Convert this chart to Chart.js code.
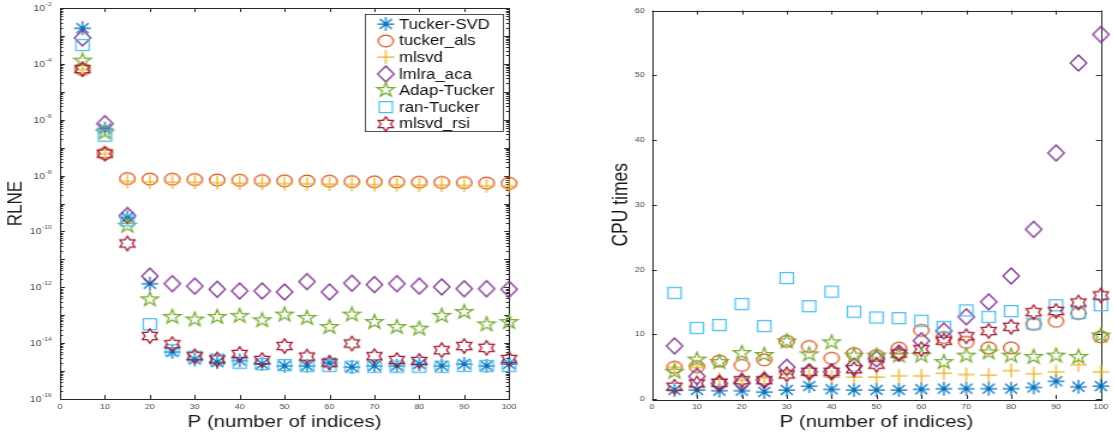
<!DOCTYPE html>
<html lang="en">
<head>
<meta charset="utf-8"/>
<script src="https://cdn.jsdelivr.net/npm/chart.js@4.4.0/dist/chart.umd.min.js"></script>
<style>
    html, body { margin: 0; padding: 0; background: #fff; }
    body { width: 1113px; height: 435px; position: relative; overflow: hidden; }
    /* the original figure is stretched horizontally, so each panel is too */
    .panel { position: absolute; top: 0; width: 460px; height: 435px; transform: scaleX(1.2); transform-origin: 0 0; }
    #left { left: 0; }
    #right { left: 560px; }
</style>
</head>
<body>
<div class="panel" id="left"><canvas id="rlne"></canvas></div>
<div class="panel" id="right"><canvas id="cpu"></canvas></div>
<script>
// number of indices
const P = [5, 10, 15, 20, 25, 30, 35, 40, 45, 50, 55, 60, 65, 70, 75, 80, 85, 90, 95, 100];
const xTicks = [0, 10, 20, 30, 40, 50, 60, 70, 80, 90, 100];
const rlneTickExps = [-16, -14, -12, -10, -8, -6, -4, -2];
const cpuTicks = [0, 10, 20, 30, 40, 50, 60];

const methods = ['Tucker-SVD', 'tucker_als', 'mlsvd', 'lmlra_aca', 'Adap-Tucker', 'ran-Tucker', 'mlsvd_rsi'];
const colors = ['#0072BD', '#D95319', '#EDB120', '#7E2F8E', '#77AC30', '#4DBEEE', '#A2142F'];
const markers = ['asterisk', 'circle', 'plus', 'diamond', 'pentagram', 'square', 'hexagram'];

// RLNE (left panel)
const rlneTuckerSvd = [1.9e-3, 4.8e-7, 3.2e-10, 1.35e-12, 4.9e-15, 2.6e-15, 2.1e-15, 2.4e-15, 1.8e-15, 1.55e-15, 1.55e-15, 2.0e-15, 1.4e-15, 1.55e-15, 1.55e-15, 1.8e-15, 1.55e-15, 1.8e-15, 1.55e-15, 1.8e-15];
const rlneTuckerAls = [6.3e-5, 6.1e-8, 7.8e-9, 7.5e-9, 7.4e-9, 7.2e-9, 7.0e-9, 6.8e-9, 6.6e-9, 6.5e-9, 6.4e-9, 6.3e-9, 6.1e-9, 6.0e-9, 5.9e-9, 5.8e-9, 5.7e-9, 5.6e-9, 5.4e-9, 5.3e-9];
const rlneMlsvd = [6.3e-5, 6.1e-8, 6.2e-9, 6.0e-9, 5.9e-9, 5.8e-9, 5.6e-9, 5.4e-9, 5.3e-9, 5.2e-9, 5.1e-9, 5.0e-9, 4.9e-9, 4.8e-9, 4.7e-9, 4.6e-9, 4.6e-9, 4.5e-9, 4.3e-9, 4.2e-9];
const rlneLmlra = [8.5e-4, 7.2e-7, 3.7e-10, 2.5e-12, 1.35e-12, 1.1e-12, 8.5e-13, 7.4e-13, 7.4e-13, 6.8e-13, 1.6e-12, 6.8e-13, 1.4e-12, 1.25e-12, 1.35e-12, 1.1e-12, 1.03e-12, 8.9e-13, 8.9e-13, 8.5e-13];
const rlneAdap = [1.3e-4, 3.5e-7, 1.6e-10, 3.7e-13, 8.7e-14, 7.0e-14, 8.7e-14, 9.5e-14, 6.6e-14, 1.05e-13, 8.0e-14, 3.8e-14, 1.05e-13, 5.7e-14, 3.8e-14, 3.3e-14, 9.5e-14, 1.3e-13, 4.7e-14, 5.7e-14];
const rlneRan = [4.8e-4, 2.7e-7, 2.5e-10, 4.8e-14, 5.6e-15, 3.3e-15, 2.6e-15, 2.0e-15, 1.8e-15, 1.65e-15, 1.55e-15, 1.55e-15, 1.45e-15, 1.45e-15, 1.45e-15, 1.45e-15, 1.45e-15, 1.55e-15, 1.55e-15, 1.55e-15];
const rlneRsi = [6.5e-5, 6.1e-8, 3.7e-11, 1.8e-14, 9.2e-15, 3.4e-15, 2.6e-15, 4.1e-15, 2.5e-15, 7.9e-15, 3.3e-15, 2.0e-15, 9.7e-15, 3.4e-15, 2.5e-15, 2.3e-15, 5.6e-15, 7.9e-15, 6.8e-15, 2.7e-15];

// CPU times (right panel)
const cpuTuckerSvd = [1.4, 1.4, 1.3, 1.3, 1.1, 1.4, 2.0, 1.5, 1.4, 1.4, 1.4, 1.5, 1.6, 1.6, 1.6, 1.6, 1.8, 2.75, 1.9, 2.0];
const cpuTuckerAls = [4.9, 5.0, 5.85, 5.2, 6.05, 8.9, 8.1, 6.3, 7.0, 6.7, 7.85, 10.6, 9.5, 8.75, 7.9, 7.9, 11.55, 12.0, 13.2, 9.6];
const cpuMlsvd = [4.9, 4.9, 3.1, 2.9, 3.3, 3.9, 3.7, 3.4, 3.4, 3.4, 3.6, 3.6, 4.0, 3.8, 3.7, 4.4, 3.9, 4.2, 5.3, 4.2];
const cpuLmlra = [8.2, 3.5, 2.4, 2.5, 2.9, 4.9, 4.2, 4.2, 5.1, 6.2, 7.1, 9.0, 10.5, 12.7, 15.0, 19.0, 26.2, 38.0, 51.9, 56.3];
const cpuAdap = [4.2, 6.1, 5.7, 7.1, 6.8, 8.9, 6.9, 8.75, 6.7, 6.7, 6.7, 6.7, 5.7, 6.7, 7.2, 6.7, 6.5, 6.7, 6.5, 9.8];
const cpuRan = [16.4, 11.0, 11.45, 14.7, 11.3, 18.7, 14.35, 16.6, 13.5, 12.6, 12.5, 12.1, 11.15, 13.7, 12.7, 13.6, 11.65, 14.5, 13.3, 14.5];
const cpuRsi = [1.9, 2.4, 2.5, 2.9, 2.9, 3.8, 4.2, 4.2, 4.6, 5.3, 7.0, 7.7, 9.0, 9.7, 10.5, 11.15, 13.4, 13.6, 14.9, 16.0];

const rlneSeries = [rlneTuckerSvd, rlneTuckerAls, rlneMlsvd, rlneLmlra, rlneAdap, rlneRan, rlneRsi];
const cpuSeries = [cpuTuckerSvd, cpuTuckerAls, cpuMlsvd, cpuLmlra, cpuAdap, cpuRan, cpuRsi];

const FONT = "'Liberation Sans', Arial, sans-serif";
Chart.defaults.font.family = FONT;
Chart.defaults.animation = false;

const axisColor = '#262626';
const tickColor = '#4a4a4a';

function starPath(g, n, R, r) {
    for (let i = 0; i < 2 * n; i++) {
        const a = -Math.PI / 2 + i * Math.PI / n;
        const rad = i % 2 ? r : R;
        if (i === 0) g.moveTo(rad * Math.cos(a), rad * Math.sin(a));
        else g.lineTo(rad * Math.cos(a), rad * Math.sin(a));
    }
    g.closePath();
}

// matlab-like marker glyphs, used as point styles and in the legend
function makeMarker(kind, color) {
    const c = document.createElement('canvas');
    c.width = 20; c.height = 20;
    const g = c.getContext('2d');
    g.strokeStyle = color;
    g.lineWidth = 1.25;
    g.translate(10, 10);
    g.beginPath();
    if (kind === 'asterisk') {
        g.moveTo(-7, 0); g.lineTo(7, 0);
        g.moveTo(0, -7); g.lineTo(0, 7);
        g.moveTo(-5, -5); g.lineTo(5, 5);
        g.moveTo(-5, 5); g.lineTo(5, -5);
    } else if (kind === 'circle') {
        g.ellipse(0, 0, 6.3, 5.8, 0, 0, Math.PI * 2);
    } else if (kind === 'plus') {
        g.moveTo(-7, 0); g.lineTo(7, 0);
        g.moveTo(0, -7); g.lineTo(0, 7);
    } else if (kind === 'diamond') {
        g.moveTo(0, -8); g.lineTo(6.8, 0); g.lineTo(0, 8); g.lineTo(-6.8, 0); g.closePath();
    } else if (kind === 'square') {
        g.rect(-5.5, -5.5, 11, 11);
    } else if (kind === 'pentagram') {
        starPath(g, 5, 7.5, 2.9);
    } else if (kind === 'hexagram') {
        starPath(g, 6, 7.2, 4.16);
    }
    g.stroke();
    return c;
}

const markerImgs = markers.map((m, i) => makeMarker(m, colors[i]));

function buildDatasets(series) {
    return series.map((vals, i) => ({
        label: methods[i],
        data: P.map((p, k) => ({ x: p, y: vals[k] })),
        pointStyle: markerImgs[i],
        pointRadius: 7,
        showLine: false,
        clip: false,
        order: methods.length - 1 - i   // later series on top, as in matlab
    }));
}

// box around the axes and inward ticks on all four sides
const frameTicks = {
    id: 'frameTicks',
    beforeDatasetsDraw(chart, args, opts) {
        const { ctx, chartArea: a, scales } = chart;
        const x = scales.x, y = scales.y;
        ctx.save();
        ctx.strokeStyle = axisColor;
        ctx.lineWidth = 1;
        ctx.beginPath();
        xTicks.forEach(v => {
            const px = Math.round(x.getPixelForValue(v)) + 0.5;
            ctx.moveTo(px, a.bottom); ctx.lineTo(px, a.bottom - 4);
            ctx.moveTo(px, a.top); ctx.lineTo(px, a.top + 4);
        });
        opts.yMarks.forEach(([v, len]) => {
            const py = Math.round(y.getPixelForValue(v)) + 0.5;
            ctx.moveTo(a.left, py); ctx.lineTo(a.left + len, py);
            ctx.moveTo(a.right, py); ctx.lineTo(a.right - len, py);
        });
        ctx.stroke();
        ctx.strokeRect(Math.round(a.left) + 0.5, Math.round(a.top) + 0.5, Math.round(a.right - a.left), Math.round(a.bottom - a.top));

        // 10^n labels of the log axis, with a raised exponent
        if (opts.powerLabels) {
            ctx.fillStyle = tickColor;
            ctx.textBaseline = 'middle';
            rlneTickExps.forEach(e => {
                const py = y.getPixelForValue(Math.pow(10, e));
                const right = a.left - 7;
                ctx.font = '5.5px ' + FONT;
                const ew = ctx.measureText(String(e)).width;
                ctx.textAlign = 'left';
                ctx.fillText(String(e), right - ew, py - 3.5);
                ctx.font = '8.8px ' + FONT;
                ctx.textAlign = 'right';
                ctx.fillText('10', right - ew - 0.5, py + 0.5);
            });
        }
        ctx.restore();
    }
};

// legend box drawn inside the left axes
const boxLegend = {
    id: 'boxLegend',
    afterDatasetsDraw(chart, args, opts) {
        if (!opts.show) return;
        const ctx = chart.ctx;
        const bx = 304, by = 14, bw = 115, bh = 117;
        ctx.save();
        ctx.fillStyle = '#fff';
        ctx.fillRect(bx, by, bw, bh);
        ctx.strokeStyle = axisColor;
        ctx.lineWidth = 0.8;
        ctx.strokeRect(bx + 0.5, by + 0.5, bw, bh);
        ctx.font = '14px ' + FONT;
        ctx.fillStyle = '#111';
        ctx.textBaseline = 'middle';
        methods.forEach((name, i) => {
            const cy = by + 10 + i * 16.6;
            ctx.drawImage(markerImgs[i], 321.5 - 10, Math.round(cy) - 10);
            ctx.fillText(name, 332.5, cy + 1);
        });
        ctx.restore();
    }
};

const logMarks = [];
for (let e = -16; e <= -2; e++) {
    logMarks.push([Math.pow(10, e), 4]);
    if (e < -2) for (let m = 2; m <= 9; m++) logMarks.push([m * Math.pow(10, e), 2.5]);
}
const linMarks = cpuTicks.map(v => [v, 4]);

const tickFont = { size: 7.5 };

function xScale() {
    return {
        type: 'linear', min: 0, max: 100,
        afterBuildTicks: s => { s.ticks = xTicks.map(v => ({ value: v })); },
        ticks: { font: tickFont, color: tickColor, padding: 3, maxRotation: 0 },
        grid: { display: false, drawTicks: false },
        border: { display: false },
        title: { display: true, text: 'P (number of indices)', font: { size: 17 }, color: '#1a1a1a', padding: { top: 0, bottom: 2 } },
        afterFit: s => { s.height = 36; }
    };
}

new Chart(document.getElementById('rlne'), {
    type: 'scatter',
    data: { datasets: buildDatasets(rlneSeries) },
    options: {
        responsive: true,
        maintainAspectRatio: false,
        events: [],
        layout: { padding: { top: 7, right: 35.8, left: 0, bottom: 0 } },
        scales: {
            x: xScale(),
            y: {
                type: 'logarithmic', min: 1e-16, max: 1e-2,
                afterBuildTicks: s => { s.ticks = rlneTickExps.map(e => ({ value: Math.pow(10, e) })); },
                ticks: { display: false },
                grid: { display: false, drawTicks: false },
                border: { display: false },
                title: { display: true, text: 'RLNE', font: { size: 17 }, color: '#1a1a1a', padding: { top: 3.1, bottom: 0 } },
                afterFit: s => { s.width = 50; }
            }
        },
        plugins: {
            legend: { display: false },
            tooltip: { enabled: false },
            frameTicks: { yMarks: logMarks, powerLabels: true },
            boxLegend: { show: true }
        }
    },
    plugins: [frameTicks, boxLegend]
});

new Chart(document.getElementById('cpu'), {
    type: 'scatter',
    data: { datasets: buildDatasets(cpuSeries) },
    options: {
        responsive: true,
        maintainAspectRatio: false,
        events: [],
        layout: { padding: { top: 7, right: 8.3, left: 0, bottom: 0 } },
        scales: {
            x: xScale(),
            y: {
                type: 'linear', min: 0, max: 60,
                afterBuildTicks: s => { s.ticks = cpuTicks.map(v => ({ value: v })); },
                ticks: { font: tickFont, color: tickColor, padding: 6 },
                grid: { display: false, drawTicks: false },
                border: { display: false },
                title: { display: true, text: 'CPU times', font: { size: 17.5 }, color: '#1a1a1a', padding: { top: 40.3, bottom: 0 } },
                afterFit: s => { s.width = 76.7; }
            }
        },
        plugins: {
            legend: { display: false },
            tooltip: { enabled: false },
            frameTicks: { yMarks: linMarks, powerLabels: false },
            boxLegend: { show: false }
        }
    },
    plugins: [frameTicks, boxLegend]
});
</script>
</body>
</html>
